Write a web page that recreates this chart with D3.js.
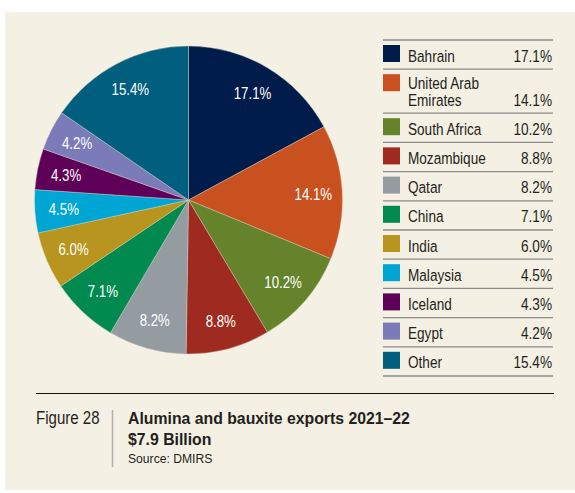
<!DOCTYPE html>
<html>
<head>
<meta charset="utf-8">
<script src="https://cdn.jsdelivr.net/npm/d3@7"></script>
<style>
  body { margin: 0; background: #ffffff; }
  svg { display: block; font-family: "Liberation Sans", Arial, sans-serif; }
</style>
</head>
<body>
<div id="vis"></div>
<script>
const frame_width = 575;
const frame_height = 493;

// chart values
const countries = ["Bahrain", "United Arab Emirates", "South Africa", "Mozambique", "Qatar", "China", "India", "Malaysia", "Iceland", "Egypt", "Other"];
const shares = [17.1, 14.1, 10.2, 8.8, 8.2, 7.1, 6.0, 4.5, 4.3, 4.2, 15.4];
const slice_colors = ["#001c4a", "#c9511f", "#65832a", "#9e2a20", "#949ba1", "#008a50", "#b8951e", "#00a6d3", "#5e0057", "#7b7bba", "#005e7e"];

const FRAME =
d3.select("#vis")
    .append("svg")
        .attr("width", frame_width)
        .attr("height", frame_height);

// no narrow font installed, so squeeze Liberation Sans sideways instead
function addText(parent, x, y, str, size, sx) {
    return parent.append("text")
        .attr("transform", "translate(" + x + "," + y + ") scale(" + sx + ",1)")
        .attr("font-size", size + "px")
        .attr("fill", "#231f20")
        .text(str);
}

// beige panel
FRAME.append("rect")
    .attr("x", 5)
    .attr("y", 12)
    .attr("width", frame_width - 5)
    .attr("height", 478)
    .attr("fill", "#f4f0e3");

const data = countries.map((c, i) => ({name: c, value: shares[i], color: slice_colors[i]}));

// pie
const radius = 154;
const pie = d3.pie().sort(null).value(d => d.value);
const arc = d3.arc().innerRadius(0).outerRadius(radius);
const label_arc = d3.arc().innerRadius(125).outerRadius(125);

const PIE = FRAME.append("g")
    .attr("transform", "translate(188.5,200)");

PIE.selectAll(".slice")
    .data(pie(data))
    .enter()
    .append("path")
        .attr("class", "slice")
        .attr("d", arc)
        .attr("fill", d => d.data.color)
        .attr("stroke", "#d8d4c8")
        .attr("stroke-width", 0.4);

pie(data).forEach(d => {
    const [cx, cy] = label_arc.centroid(d);
    addText(PIE, cx, cy + 6, d.value.toFixed(1) + "%", 17, 0.78)
        .attr("text-anchor", "middle")
        .attr("fill", "#ffffff");
});

// legend
const leg_x = 383;
const leg_right = 553;
let y = 40;

FRAME.append("line")
    .attr("x1", leg_x).attr("x2", leg_right)
    .attr("y1", y).attr("y2", y)
    .attr("stroke", "#8c8c8c")
    .attr("stroke-width", 1.3);

data.forEach(d => {
    const two_lines = d.name === "United Arab Emirates";
    const row_h = two_lines ? 44 : 29.2;
    const g = FRAME.append("g").attr("transform", "translate(0," + y + ")");

    g.append("rect")
        .attr("x", leg_x)
        .attr("y", 5)
        .attr("width", 17)
        .attr("height", 17)
        .attr("fill", d.color);

    if (two_lines) {
        addText(g, 408, 19.5, "United Arab", 17, 0.8);
        addText(g, 408, 37, "Emirates", 17, 0.8);
    } else {
        addText(g, 408, 21.5, d.name, 17, 0.8);
    }

    addText(g, leg_right - 1, two_lines ? 37 : 21.5, d.value.toFixed(1) + "%", 17, 0.8)
        .attr("text-anchor", "end");

    y += row_h;
    FRAME.append("line")
        .attr("x1", leg_x).attr("x2", leg_right)
        .attr("y1", y).attr("y2", y)
        .attr("stroke", "#8c8c8c")
        .attr("stroke-width", 1.3);
});

// caption
FRAME.append("line")
    .attr("x1", 36).attr("x2", 554)
    .attr("y1", 393.5).attr("y2", 393.5)
    .attr("stroke", "#111111")
    .attr("stroke-width", 1);

FRAME.append("line")
    .attr("x1", 112.5).attr("x2", 112.5)
    .attr("y1", 410).attr("y2", 467)
    .attr("stroke", "#b0b0b0")
    .attr("stroke-width", 1.5);

addText(FRAME, 36, 423.5, "Figure 28", 17.5, 0.86);

addText(FRAME, 128, 423.5, "Alumina and bauxite exports 2021–22", 17, 0.93)
    .attr("font-weight", "bold");

addText(FRAME, 128, 445, "$7.9 Billion", 17, 0.93)
    .attr("font-weight", "bold");

addText(FRAME, 128, 463, "Source: DMIRS", 13.5, 0.9);
</script>
</body>
</html>
